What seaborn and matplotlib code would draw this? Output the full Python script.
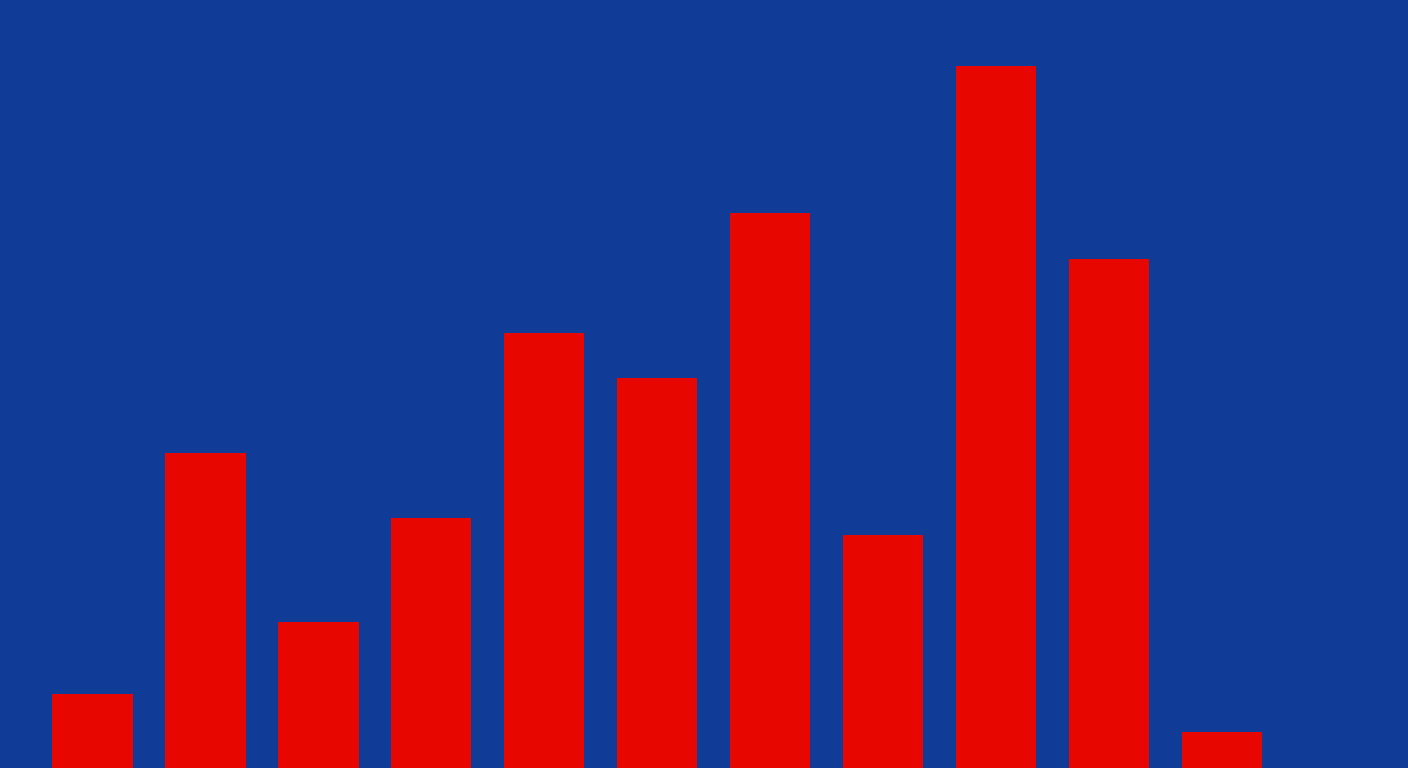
import matplotlib
matplotlib.use("Agg")
import matplotlib.pyplot as plt
import seaborn as sns
import pandas as pd

# bar values (scale 0-100)
categories = ["A", "B", "C", "D", "E", "F", "G", "H", "I", "J", "K"]
values = [9.6, 41.0, 19.0, 32.5, 56.6, 50.8, 72.3, 30.3, 91.4, 66.3, 4.7]

bg = "#103c98"
bar_color = "#e80700"

df = pd.DataFrame({"cat": categories, "val": values})

sns.set_style("white")
fig = plt.figure(figsize=(14.08, 7.68), dpi=100)
fig.patch.set_facecolor(bg)
ax = fig.add_axes([0, 0, 1, 1])
ax.set_facecolor(bg)

sns.barplot(data=df, x="cat", y="val", color=bar_color, width=0.71,
            saturation=1, linewidth=0, edgecolor="none", ax=ax)

ax.set_xlim(-0.819, 11.646)
ax.set_ylim(0, 100)
ax.set_axis_off()

fig.savefig("out.png", dpi=100, facecolor=bg)
